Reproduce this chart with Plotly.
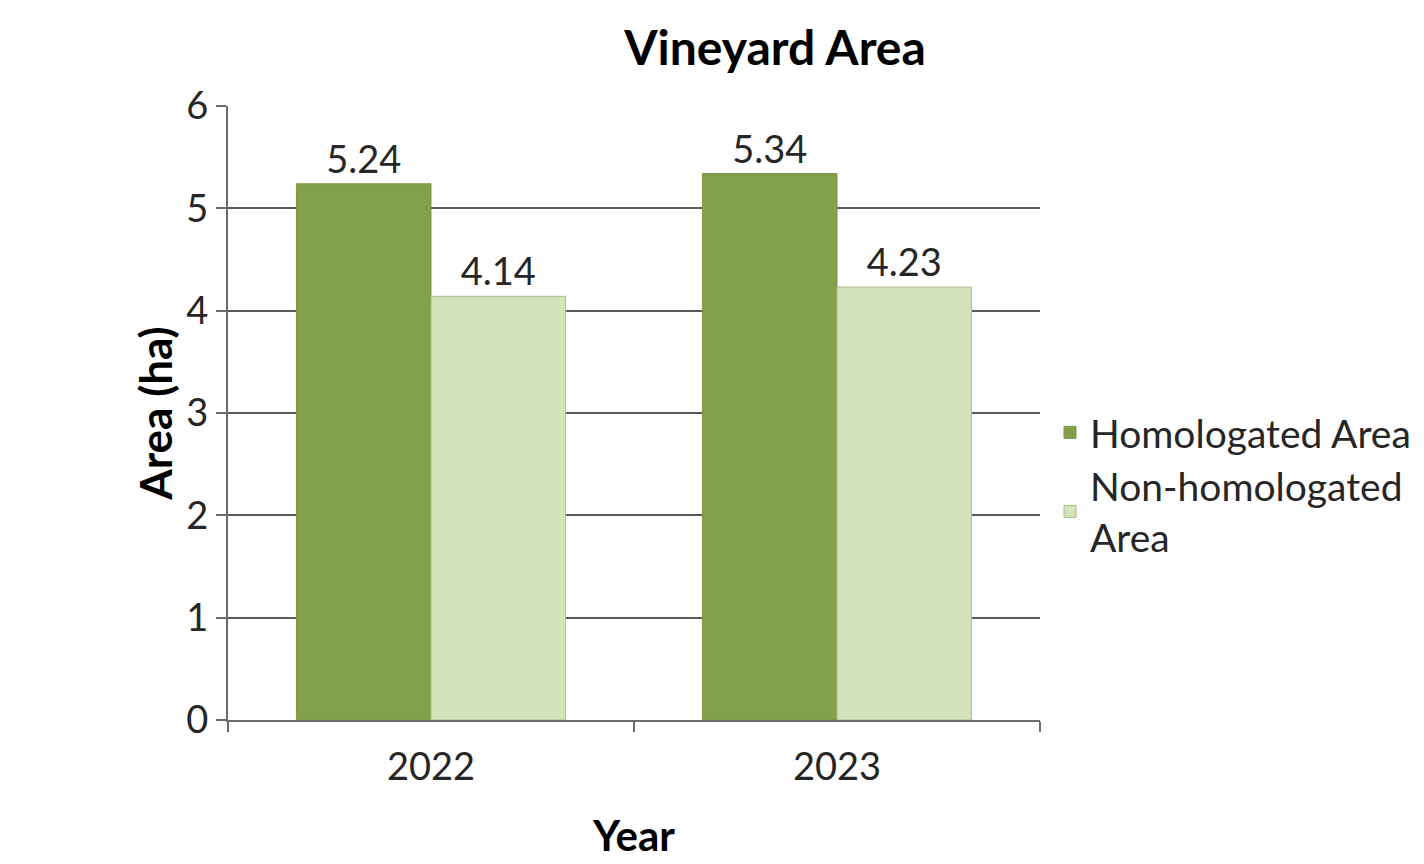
import plotly.graph_objects as go

years = ["2022", "2023"]
homologated = [5.24, 5.34]
non_homologated = [4.14, 4.23]
series_names = ["Homologated Area", "Non-homologated<br>Area"]
y_ticks = [0, 1, 2, 3, 4, 5, 6]

W, H = 1424, 864
OFF = 8  # page body margin
FONT = "Lato"
TXT = "#262626"


def px_x(p):
    return (p - OFF) / W


def px_y(p):
    return 1 - (p - OFF) / H


fig = go.Figure()
fig.add_trace(go.Bar(
    x=years, y=homologated, name=series_names[0],
    marker=dict(color="#84A04B", line=dict(color="#7A9645", width=1)),
    text=[f"{v:.2f}" for v in homologated], textposition="outside",
    textfont=dict(family=FONT, size=38, color=TXT), cliponaxis=False,
))
fig.add_trace(go.Bar(
    x=years, y=non_homologated, name=series_names[1],
    marker=dict(color="#D5E3BB", line=dict(color="#A9BE86", width=1)),
    text=[f"{v:.2f}" for v in non_homologated], textposition="outside",
    textfont=dict(family=FONT, size=38, color=TXT), cliponaxis=False,
))

fig.update_layout(
    width=W, height=H,
    margin=dict(l=0, r=0, t=0, b=0),
    paper_bgcolor="white", plot_bgcolor="white",
    barmode="group", bargap=0.337, bargroupgap=0,
    font=dict(family=FONT, color=TXT),
    title=dict(text="<b>Vineyard Area</b>", x=px_x(775), xanchor="center",
               y=px_y(48), yanchor="middle",
               font=dict(family=FONT, size=48, color="#000000")),
    legend=dict(x=px_x(1050), xanchor="left", y=px_y(485), yanchor="middle",
                font=dict(family=FONT, size=39, color=TXT),
                bgcolor="rgba(0,0,0,0)", itemwidth=30, tracegroupgap=8),
    showlegend=True,
)

fig.update_xaxes(
    domain=[px_x(228), px_x(1040)], type="category",
    showline=True, linecolor="#6b6b6b", linewidth=2,
    ticks="outside", tickson="boundaries", ticklen=10, tickcolor="#6b6b6b", tickwidth=2,
    tickfont=dict(family=FONT, size=38, color=TXT), ticklabelstandoff=12,
    showgrid=False, automargin=False,
    title=dict(text="<b>Year</b>", font=dict(family=FONT, size=42, color="#000000"), standoff=35),
)
fig.update_yaxes(
    domain=[px_y(720), px_y(106)], range=[0, 6],
    tickvals=y_ticks, ticktext=[str(v) for v in y_ticks],
    showline=True, linecolor="#6b6b6b", linewidth=2,
    ticks="outside", ticklen=10, tickcolor="#6b6b6b", tickwidth=2,
    tickfont=dict(family=FONT, size=38, color=TXT),
    showgrid=True, gridcolor="#595959", gridwidth=2,
    zeroline=False, automargin=False,
    title=dict(text="<b>Area (ha)</b>", font=dict(family=FONT, size=44, color="#000000"), standoff=0),
)

fig.write_html("out.html")
